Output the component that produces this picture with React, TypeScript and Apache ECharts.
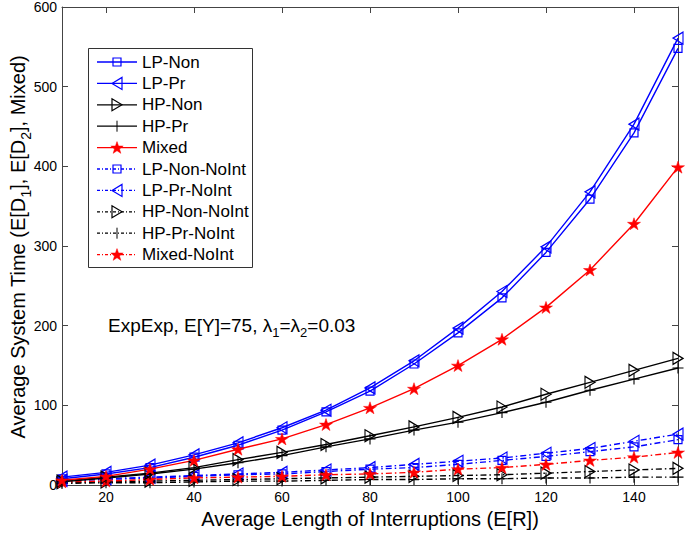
import React, { useEffect, useRef } from "react";
import * as echarts from "echarts";

const xValues = [10, 20, 30, 40, 50, 60, 70, 80, 90, 100, 110, 120, 130, 140, 150];
const lpNon = [8, 14, 22, 35, 50, 69, 92, 118, 152, 191, 235, 292, 359, 442, 548];
const lpPr = [10, 16, 25, 38, 53, 72, 94, 122, 156, 197, 243, 299, 368, 453, 561];
const hpNon = [5, 10, 15, 22, 32, 41, 51, 62, 73, 85, 98, 114, 129, 144, 159];
const hpPr = [4, 9, 14, 20, 28, 37, 48, 58, 69, 79, 91, 104, 119, 133, 147];
const mixed = [6, 11, 20, 31, 45, 58, 76, 97, 121, 150, 183, 223, 270, 328, 399];
const lpNonNoInt = [5, 7, 9, 11, 13, 14, 17, 20, 22, 26, 31, 36, 42, 48, 57];
const lpPrNoInt = [6, 8, 10, 12, 14, 16, 19, 22, 26, 30, 34, 40, 46, 55, 64];
const hpNonNoInt = [3, 4, 5, 6, 7, 8, 9, 10, 11, 12, 13, 15, 17, 19, 21];
const hpPrNoInt = [2, 3, 3, 4, 5, 5, 6, 7, 7, 8, 8, 9, 9, 10, 10];
const mixedNoInt = [4, 5, 7, 9, 10, 11, 13, 14, 16, 20, 22, 26, 31, 35, 41];

const xTicks = [20, 40, 60, 80, 100, 120, 140];
const legendNames = [
  "LP-Non", "LP-Pr", "HP-Non", "HP-Pr", "Mixed",
  "LP-Non-NoInt", "LP-Pr-NoInt", "HP-Non-NoInt", "HP-Pr-NoInt", "Mixed-NoInt",
];

const FONT = "'Liberation Sans', Arial, Helvetica, sans-serif";
const BLUE = "#0000ff";
const RED = "#ff0000";
const BLACK = "#000000";
const DASHDOT = [6, 3, 1.5, 3];

const SQ = "path://M0,0L10,0L10,10L0,10Z";
const TL = "path://M0,5L10,0L10,10Z";
const TR = "path://M10,5L0,0L0,10Z";
const PLUS = "path://M4.5,0L5.5,0L5.5,4.5L10,4.5L10,5.5L5.5,5.5L5.5,10L4.5,10L4.5,5.5L0,5.5L0,4.5L4.5,4.5Z";
const STAR = "path://M50,0L61.2,34.5L97.6,34.5L68.2,55.9L79.4,90.5L50,69.1L20.6,90.5L31.8,55.9L2.4,34.5L38.8,34.5Z";

type Kind = "sq" | "tl" | "tr" | "plus" | "star";

const seriesDefs: { name: string; data: number[]; color: string; kind: Kind; dashed: boolean }[] = [
  { name: legendNames[0], data: lpNon, color: BLUE, kind: "sq", dashed: false },
  { name: legendNames[1], data: lpPr, color: BLUE, kind: "tl", dashed: false },
  { name: legendNames[2], data: hpNon, color: BLACK, kind: "tr", dashed: false },
  { name: legendNames[3], data: hpPr, color: BLACK, kind: "plus", dashed: false },
  { name: legendNames[4], data: mixed, color: RED, kind: "star", dashed: false },
  { name: legendNames[5], data: lpNonNoInt, color: BLUE, kind: "sq", dashed: true },
  { name: legendNames[6], data: lpPrNoInt, color: BLUE, kind: "tl", dashed: true },
  { name: legendNames[7], data: hpNonNoInt, color: BLACK, kind: "tr", dashed: true },
  { name: legendNames[8], data: hpPrNoInt, color: BLACK, kind: "plus", dashed: true },
  { name: legendNames[9], data: mixedNoInt, color: RED, kind: "star", dashed: true },
];

function symbolFor(kind: Kind, color: string) {
  switch (kind) {
    case "sq":
      return { symbol: SQ, symbolSize: 8, itemStyle: { color: "none", borderColor: color, borderWidth: 1.2 } };
    case "tl":
      return { symbol: TL, symbolSize: [10, 12], itemStyle: { color: "none", borderColor: color, borderWidth: 1.2 } };
    case "tr":
      return { symbol: TR, symbolSize: [10, 12], itemStyle: { color: "none", borderColor: color, borderWidth: 1.2 } };
    case "plus":
      return { symbol: PLUS, symbolSize: 11, itemStyle: { color: color, borderWidth: 0 } };
    case "star":
    default:
      return { symbol: STAR, symbolSize: [13, 12], itemStyle: { color: color, borderColor: color, borderWidth: 0.5 } };
  }
}

function legendMarker(kind: Kind, color: string, cx: number, cy: number): any[] {
  const out: any[] = [];
  if (kind === "sq") {
    out.push({ type: "rect", shape: { x: cx - 4, y: cy - 4, width: 8, height: 8 }, style: { fill: "none", stroke: color, lineWidth: 1.2 } });
  } else if (kind === "tl") {
    out.push({ type: "polygon", shape: { points: [[cx - 5, cy], [cx + 5, cy - 6], [cx + 5, cy + 6]] }, style: { fill: "none", stroke: color, lineWidth: 1.2 } });
  } else if (kind === "tr") {
    out.push({ type: "polygon", shape: { points: [[cx + 5, cy], [cx - 5, cy - 6], [cx - 5, cy + 6]] }, style: { fill: "none", stroke: color, lineWidth: 1.2 } });
  } else if (kind === "plus") {
    out.push({ type: "line", shape: { x1: cx, y1: cy - 5.5, x2: cx, y2: cy + 5.5 }, style: { stroke: color, lineWidth: 1 } });
  } else {
    const pts: number[][] = [];
    for (let k = 0; k < 10; k++) {
      const ang = (-90 + k * 36) * Math.PI / 180;
      const r = k % 2 === 0 ? 6.5 : 2.6;
      pts.push([cx + r * Math.cos(ang), cy + 0.5 + r * Math.sin(ang)]);
    }
    out.push({ type: "polygon", shape: { points: pts }, style: { fill: color, stroke: color, lineWidth: 0.5 } });
  }
  return out;
}

export default function App() {
  const ref = useRef<HTMLDivElement>(null);
  useEffect(() => {
    if (!ref.current) return;
    const chart = echarts.init(ref.current, null, { renderer: "svg" });

    const series = seriesDefs.map((d) => ({
      name: d.name,
      type: "line",
      xAxisIndex: 0,
      yAxisIndex: 0,
      data: xValues.map((x, i) => [x, d.data[i]]),
      ...symbolFor(d.kind, d.color),
      showSymbol: true,
      lineStyle: { color: d.color, width: 1.4, type: d.dashed ? DASHDOT : "solid" },
      emphasis: { disabled: true },
      z: d.dashed ? 2 : 3,
    }));

    const legendX = 88;
    const legendY = 48;
    const rowH = 21.4;
    const legendEls: any[] = [
      { type: "rect", shape: { x: legendX + 0.5, y: legendY + 0.5, width: 164, height: 219 }, style: { fill: "#fff", stroke: "#333", lineWidth: 1 }, z: 10 },
    ];
    seriesDefs.forEach((d, i) => {
      const cy = legendY + 14 + i * rowH;
      legendEls.push({ type: "line", shape: { x1: 97, y1: cy, x2: 137, y2: cy }, style: { stroke: d.color, lineWidth: 1.3, lineDash: d.dashed ? [3, 2, 1, 2] : null }, z: 11 });
      legendMarker(d.kind, d.color, 117, cy).forEach((el) => legendEls.push({ ...el, z: 12 }));
      legendEls.push({ type: "text", x: 142, y: cy, style: { text: d.name, font: `17px ${FONT}`, fill: "#000", align: "left", verticalAlign: "middle" }, z: 12 });
    });

    const option: any = {
      animation: false,
      backgroundColor: "#fff",
      grid: { left: 62, right: 7, top: 5, bottom: 45, containLabel: false },
      xAxis: [
        {
          type: "value", min: 10, max: 150, position: "bottom",
          name: "Average Length of Interruptions (E[R])", nameLocation: "middle", nameGap: 21,
          nameTextStyle: { fontSize: 20, fontFamily: FONT, color: "#000" },
          axisLine: { show: true, lineStyle: { color: "#444", width: 1 } },
          axisTick: { show: true, inside: true, length: 6, customValues: xTicks, lineStyle: { color: "#444" } },
          axisLabel: { show: true, customValues: xTicks, margin: 5, fontSize: 14, fontFamily: FONT, color: "#000" },
          splitLine: { show: false },
        },
        {
          type: "value", min: 10, max: 150, position: "top",
          axisLine: { show: true, onZero: false, lineStyle: { color: "#444", width: 1 } },
          axisTick: { show: true, inside: true, length: 6, customValues: xTicks, lineStyle: { color: "#444" } },
          axisLabel: { show: false },
          splitLine: { show: false },
        },
      ],
      yAxis: [
        {
          type: "value", min: 0, max: 600, interval: 100, position: "left",
          axisLine: { show: true, lineStyle: { color: "#444", width: 1 } },
          axisTick: { show: true, inside: true, length: 6, lineStyle: { color: "#444" } },
          axisLabel: { show: true, margin: 5, fontSize: 14, fontFamily: FONT, color: "#000" },
          splitLine: { show: false },
        },
        {
          type: "value", min: 0, max: 600, interval: 100, position: "right",
          axisLine: { show: true, onZero: false, lineStyle: { color: "#444", width: 1 } },
          axisTick: { show: true, inside: true, length: 6, lineStyle: { color: "#444" } },
          axisLabel: { show: false },
          splitLine: { show: false },
        },
      ],
      series,
      graphic: [
        {
          type: "text", x: 18, y: 247, rotation: Math.PI / 2,
          style: {
            text: "{m|Average System Time (E[D}{s|1}{m|], E[D}{s|2}{m|], Mixed)}",
            align: "center", verticalAlign: "middle", fill: "#000",
            rich: {
              m: { fontSize: 20, fontFamily: FONT, lineHeight: 30, verticalAlign: "middle", fill: "#000" },
              s: { fontSize: 14, fontFamily: FONT, lineHeight: 14, verticalAlign: "bottom", fill: "#000" },
            },
          },
          z: 20,
        },
        {
          type: "text", x: 108, y: 325,
          style: {
            text: "{m|ExpExp, E[Y]=75, λ}{s|1}{m|=λ}{s|2}{m|=0.03}",
            align: "left", verticalAlign: "middle", fill: "#000",
            rich: {
              m: { fontSize: 19, fontFamily: FONT, lineHeight: 28, verticalAlign: "middle", fill: "#000" },
              s: { fontSize: 13, fontFamily: FONT, lineHeight: 13, verticalAlign: "bottom", fill: "#000" },
            },
          },
          z: 20,
        },
        ...legendEls,
      ],
    };
    chart.setOption(option);
    return () => chart.dispose();
  }, []);
  return <div ref={ref} style={{ width: 685, height: 534, position: "absolute", left: 0, top: 0 }} />;
}
